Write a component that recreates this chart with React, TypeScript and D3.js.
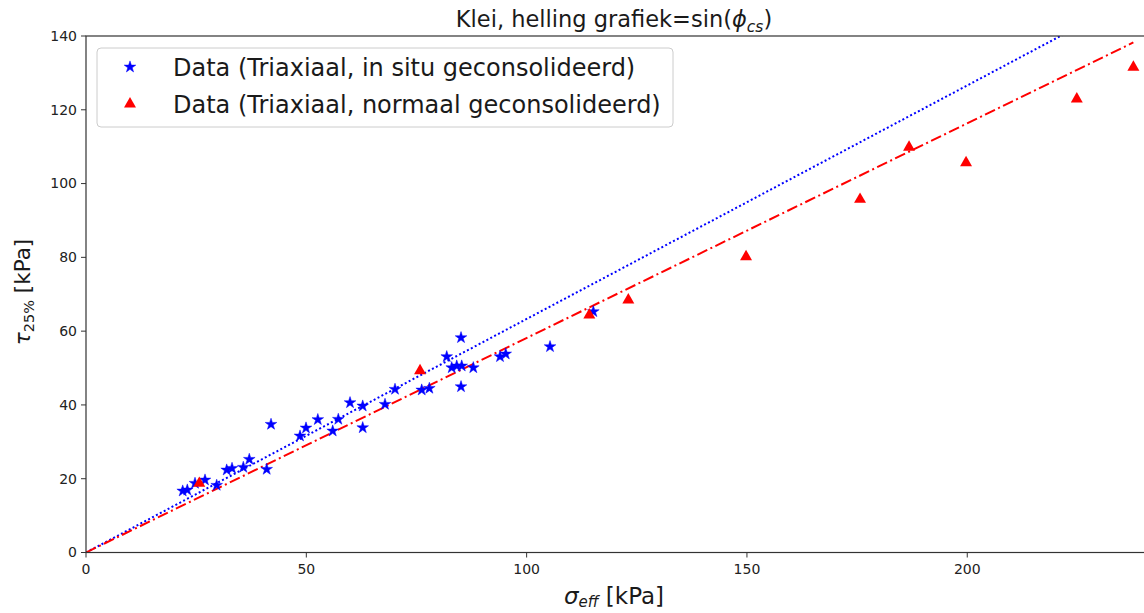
import React from "react";
import * as d3 from "d3";

// Triaxial tests, consolidated in situ: effective stress vs shear stress at 25% strain (kPa)
const inSituSigma = [21.95, 22.99, 24.74, 27.01, 29.66, 31.93, 33.14, 35.7, 37.06, 41.01, 41.99, 48.57, 49.93, 52.61, 55.99, 57.26, 59.92, 62.8, 62.8, 67.86, 70.13, 76.19, 77.92, 81.87, 83.0, 84.14, 85.27, 85.11, 85.11, 87.9, 93.96, 95.26, 105.31, 115.14];
const inSituTau = [16.67, 16.94, 18.76, 19.65, 18.22, 22.36, 22.82, 23.1, 25.26, 22.55, 34.75, 31.58, 33.75, 36.03, 32.94, 36.11, 40.61, 39.71, 33.83, 40.17, 44.24, 44.05, 44.51, 53.08, 50.09, 50.56, 50.56, 58.23, 44.94, 50.09, 53.08, 53.81, 55.79, 65.28];

// Triaxial tests, normally consolidated
const normalSigma = [25.71, 75.81, 114.23, 123.08, 149.8, 175.67, 186.79, 199.73, 224.86, 237.7];
const normalTau = [18.76, 49.28, 64.38, 68.45, 80.18, 95.74, 109.84, 105.66, 122.93, 131.53];

// Fitted slopes (sin of critical-state friction angle)
const slopeInSitu = 0.633;
const slopeNormal = 0.5816;

const xTicks = [0, 50, 100, 150, 200];
const yTicks = [0, 20, 40, 60, 80, 100, 120, 140];

const legendLabels = [
  "Data (Triaxiaal, in situ geconsolideerd)",
  "Data (Triaxiaal, normaal geconsolideerd)",
];

const W = 1144;
const H = 613;
const left = 86;
const right = 1143.5;
const top = 36;
const bottom = 552.5;
const FONT = "'DejaVu Sans', sans-serif";

export default function App() {
  const x = d3.scaleLinear().domain([0, 240]).range([left, right]);
  const y = d3.scaleLinear().domain([0, 140]).range([bottom, top]);

  const star = d3.symbol().type(d3.symbolStar).size(42)();
  const tri = d3.symbol().type(d3.symbolTriangle).size(62)();

  const xEndNormal = d3.max(normalSigma) as number;
  const lineGen = d3
    .line<[number, number]>()
    .x((d) => x(d[0]))
    .y((d) => y(d[1]));
  const fitInSitu = lineGen([
    [0, 0],
    [xEndNormal, slopeInSitu * xEndNormal],
  ]);
  const fitNormal = lineGen([
    [0, 0],
    [xEndNormal, slopeNormal * xEndNormal],
  ]);

  return (
    <svg
      width={W}
      height={H}
      style={{ position: "absolute", left: 0, top: 0, background: "#fff" }}
      fontFamily={FONT}
    >
      <defs>
        <clipPath id="plotArea">
          <rect x={left} y={top} width={right - left} height={bottom - top} />
        </clipPath>
      </defs>

      {/* title */}
      <text x={614} y={27} fontSize={22.5} textAnchor="middle" fill="#1a1a1a">
        Klei, helling grafiek=sin(
        <tspan fontStyle="italic">ϕ</tspan>
        <tspan fontStyle="italic" fontSize={15.5} dy={5}>cs</tspan>
        <tspan dy={-5}>)</tspan>
      </text>

      {/* fitted lines */}
      <g clipPath="url(#plotArea)">
        <path d={fitInSitu || ""} fill="none" stroke="#0000ff" strokeWidth={2} strokeDasharray="2,2.4" />
        <path d={fitNormal || ""} fill="none" stroke="#ff0000" strokeWidth={2} strokeDasharray="11,3.5,2,3.5" />
      </g>

      {/* data points */}
      <g clipPath="url(#plotArea)">
        {inSituSigma.map((s, i) => (
          <path key={"b" + i} d={star || ""} transform={`translate(${x(s)},${y(inSituTau[i])})`} fill="#0000ff" stroke="#0000ff" strokeWidth={0.5} />
        ))}
        {normalSigma.map((s, i) => (
          <path key={"r" + i} d={tri || ""} transform={`translate(${x(s)},${y(normalTau[i])})`} fill="#ff0000" />
        ))}
      </g>

      {/* frame */}
      <rect x={left} y={top} width={right - left + 2} height={bottom - top} fill="none" stroke="#333" strokeWidth={1.2} />

      {/* x axis */}
      {xTicks.map((t) => (
        <g key={"xt" + t} transform={`translate(${x(t)},${bottom})`}>
          <line y2={5} stroke="#333" strokeWidth={1} />
          <text y={21} fontSize={14} textAnchor="middle" fill="#222">
            {t}
          </text>
        </g>
      ))}
      {/* y axis */}
      {yTicks.map((t) => (
        <g key={"yt" + t} transform={`translate(${left},${y(t)})`}>
          <line x2={-5} stroke="#333" strokeWidth={1} />
          <text x={-9} dy="0.35em" fontSize={14} textAnchor="end" fill="#222">
            {t}
          </text>
        </g>
      ))}

      {/* axis labels */}
      <text x={614} y={604} fontSize={23} textAnchor="middle" fill="#1a1a1a">
        <tspan fontStyle="italic">σ</tspan>
        <tspan fontStyle="italic" fontSize={15} dy={3}>eff</tspan>
        <tspan dy={-3}> [kPa]</tspan>
      </text>
      <text transform="translate(30,292) rotate(-90)" fontSize={21.5} textAnchor="middle" fill="#1a1a1a">
        <tspan fontStyle="italic">τ</tspan>
        <tspan fontSize={14.5} dy={4}>25%</tspan>
        <tspan dy={-4}> [kPa]</tspan>
      </text>

      {/* legend */}
      <g>
        <rect x={97} y={48} width={576} height={79} rx={4} fill="#fff" fillOpacity={0.8} stroke="#ccc" strokeWidth={1} />
        <path d={star || ""} transform="translate(130,67)" fill="#0000ff" stroke="#0000ff" strokeWidth={0.5} />
        <text x={173} y={76} fontSize={24} fill="#1a1a1a">
          {legendLabels[0]}
        </text>
        <path d={tri || ""} transform="translate(130,104)" fill="#ff0000" />
        <text x={173} y={113} fontSize={24} fill="#1a1a1a">
          {legendLabels[1]}
        </text>
      </g>
    </svg>
  );
}
